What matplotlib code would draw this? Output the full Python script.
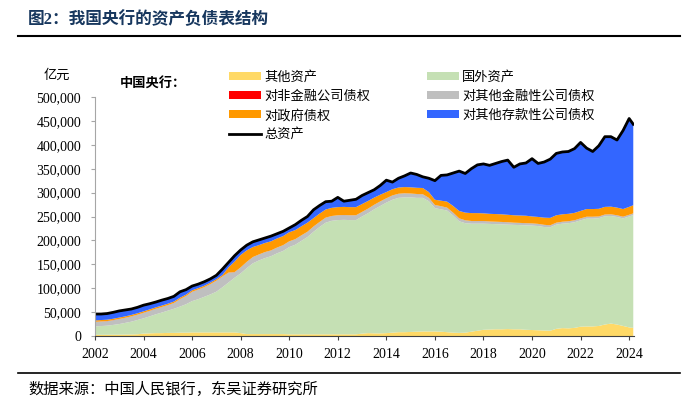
import numpy as np
import matplotlib
matplotlib.use('Agg')
import matplotlib.pyplot as plt
from matplotlib.patches import Patch
from matplotlib.lines import Line2D
from matplotlib.ticker import FuncFormatter

plt.rcParams['font.family'] = ['Liberation Serif', 'Noto Sans CJK SC']

# 季度数据（单位：千亿元），2002Q1 ... 2024Q1，外加 2024 年 2 月
t = list(np.arange(2002, 2024.01, 0.25)) + [2024.17]

other = [2.5, 2.5, 2.6, 2.7,  2.8, 3.0, 3.2, 3.6,  5.0, 5.5, 6.0, 6.0,  6.5, 6.5, 7.0, 7.0,
         7.5, 7.5, 7.5, 7.5,  7.5, 7.5, 7.5, 7.5,  6.0, 4.0, 4.0, 4.0,  4.0, 4.0, 4.0, 4.0,
         3.5, 3.5, 3.5, 3.5,  3.5, 3.5, 3.5, 3.5,  3.5, 3.5, 3.5, 3.5,  5.0, 6.0, 5.5, 5.5,
         6.0, 7.0, 8.0, 8.0,  8.5, 9.0, 9.5, 9.5,  9.5, 9.0, 8.0, 7.0,  6.5, 7.0, 9.0, 11.0,
         13.0, 13.5, 14.0, 14.0,  14.5, 14.0, 14.0, 13.0,  12.5, 12.0, 11.5, 11.0,
         15.0, 16.5, 16.0, 17.0,  19.5, 20.0, 20.0, 21.0,  24.0, 26.0, 24.0, 21.0,  18.0, 17.0]

foreign = [17.5, 18.3, 19.0, 20.5,  22.2, 24.5, 26.8, 29.9,  32.0, 35.5, 39.3, 43.0,
           46.5, 50.5, 54.5, 59.5,  65.5, 69.5, 74.5, 79.5,  85.2, 94.5, 104.5, 114.5,
           125.0, 138.0, 148.0, 154.0,  159.0, 163.0, 169.0, 174.0,  182.5, 187.5, 195.5, 203.5,
           214.5, 224.5, 233.5, 237.5,  239.0, 239.5, 239.0, 239.0,  245.0, 251.0, 259.5, 266.5,
           273.0, 278.0, 281.0, 282.0,  281.5, 280.0, 279.5, 272.5,  258.0, 256.0, 254.5, 245.0,
           233.5, 229.0, 226.0, 224.0,  222.0, 221.0, 220.0, 219.5,  218.5, 218.5, 218.0, 218.5,
           218.5, 218.0, 216.5, 216.5,  218.0, 218.5, 220.0, 221.0,  222.5, 225.5, 225.5, 225.5,
           226.5, 225.0, 225.0, 225.0,  232.0, 236.0]

other_fin = [9.5, 9.5, 9.4, 9.8,  10.5, 10.5, 11.0, 11.0,  11.5, 11.5, 11.5, 11.5,
             11.5, 12.0, 15.5, 17.0,  19.5, 20.0, 20.0, 21.5,  23.0, 22.5, 20.5, 11.5,
             12.5, 13.0, 13.0, 12.5,  12.5, 12.0, 12.0, 12.0,  12.0, 11.5, 11.5, 11.0,
             11.0, 10.5, 10.5, 10.0,  10.0, 10.0, 10.0, 10.0,  9.5, 9.5, 9.5, 9.5,
             9.0, 9.0, 8.5, 8.5,  8.0, 8.0, 7.5, 7.0,  6.5, 6.5, 6.0, 6.0,
             6.0, 6.0, 5.5, 5.5,  5.5, 5.0, 5.0, 5.0,  5.0, 4.5, 4.5, 4.5,
             4.5, 4.5, 4.5, 4.0,  4.0, 4.0, 4.0, 4.0,  4.0, 4.0, 4.0, 3.5,
             3.5, 3.5, 3.5, 3.5,  3.5, 3.5]

nonfin = [0.2, 0.2, 0.2, 0.2,  0.2, 0.2, 0.2, 0.2,  0.2, 0.2, 0.2, 0.2,
          0.2, 0.2, 0.2, 0.2,  0.2, 0.2, 0.2, 0.2,  0.2, 0.2, 0.2, 0.2,
          0.1, 0.1, 0.1, 0.1,  0.1, 0.1, 0.1, 0.1,  0.1, 0.1, 0.1, 0.1,
          0.1, 0.1, 0.1, 0.1,  0.1, 0.1, 0.1, 0.1,  0.1, 0.1, 0.1, 0.1,
          0.1, 0.1, 0.1, 0.1,  0.1, 0.1, 0.1, 0.1,  0.1, 0.1, 0.1, 0.1,
          0.1, 0.1, 0.1, 0.1,  0.1, 0.1, 0.1, 0.1,  0.1, 0.1, 0.1, 0.1,
          0.1, 0.1, 0.1, 0.1,  0.1, 0.1, 0.1, 0.1,  0.1, 0.1, 0.1, 0.1,
          0.1, 0.1, 0.1, 0.1,  0.1, 0.1]

gov = [2.9, 2.9, 2.9, 2.9,  2.9, 2.9, 2.9, 2.9,  2.9, 2.9, 2.9, 2.9,
       2.9, 2.9, 2.9, 2.9,  2.9, 2.9, 2.9, 2.9,  2.9, 2.9, 11.0, 22.0,
       26.0, 24.0, 21.0, 19.5,  19.0, 19.0, 19.0, 19.0,  19.0, 19.0, 19.0, 19.0,
       17.5, 17.5, 17.0, 17.0,  17.0, 17.0, 17.0, 17.0,  16.5, 16.0, 15.0, 14.0,
       13.0, 13.0, 13.0, 13.0,  13.0, 13.0, 13.0, 12.0,  11.0, 11.5, 12.5, 14.0,
       15.5, 16.0, 16.5, 16.5,  16.0, 16.0, 16.0, 16.0,  15.5, 15.5, 15.5, 15.5,
       14.5, 14.5, 15.0, 15.5,  15.5, 15.5, 15.5, 15.5,  15.5, 16.0, 16.0, 16.0,
       16.0, 16.0, 16.0, 16.0,  16.5, 17.0]

odc = [13.4, 12.6, 12.9, 13.4,  13.9, 13.4, 12.4, 12.4,  12.9, 11.9, 11.1, 11.4,
       10.9, 10.9, 12.4, 10.4,  8.9, 8.4, 8.4, 7.9,  8.2, 12.4, 10.3, 12.3,
       10.4, 10.9, 10.9, 10.9,  10.4, 10.9, 9.9, 9.9,  8.9, 11.4, 12.4, 12.9,
       17.4, 16.9, 16.4, 13.9,  20.4, 11.9, 14.4, 16.4,  17.9, 17.4, 16.4, 19.4,
       24.9, 14.9, 19.4, 23.4,  29.9, 27.9, 23.4, 28.9,  39.9, 52.9, 55.9, 68.9,
       83.4, 81.9, 92.9, 100.9,  103.4, 101.4, 105.9, 110.4,  114.4, 100.4, 107.9, 110.4,
       120.9, 111.9, 116.4, 122.9,  129.4, 130.4, 130.4, 134.4,  143.4, 127.4, 120.4, 131.9,
       146.9, 146.4, 141.4, 164.4,  184.9, 169.4]

colors = ['#FFD966', '#C5E0B4', '#BFBFBF', '#FF0000', '#FF9900', '#3366FF']

series = [np.array(s) * 1000 for s in [other, foreign, other_fin, nonfin, gov, odc]]
total = np.sum(series, axis=0)

W, H = 698, 405
fx = lambda px: px / W
fy = lambda py: 1 - py / H

fig = plt.figure(figsize=(W / 100, H / 100), dpi=100)
ax = fig.add_axes([fx(95), fy(336), (634 - 95) / W, (336 - 97) / H])

ax.stackplot(t, *series, colors=colors, linewidth=0)
ax.plot(t, total, color='black', lw=2, solid_joinstyle='round')

ax.set_xlim(2002, 2024.2)
ax.set_ylim(0, 500000)
ax.set_xticks(range(2002, 2025, 2))
ax.set_yticks(range(0, 500001, 50000))
ax.yaxis.set_major_formatter(FuncFormatter(lambda v, p: f'{int(v):,}'))

for s in ['top', 'right']:
    ax.spines[s].set_visible(False)
ax.spines['left'].set_color('#A6A6A6')
ax.spines['left'].set_linewidth(0.8)
ax.spines['bottom'].set_color('#404040')
ax.spines['bottom'].set_linewidth(0.8)
ax.tick_params(axis='y', direction='out', length=3, color='#A6A6A6', labelsize=10, pad=7)
ax.tick_params(axis='x', direction='out', length=3, color='#404040', labelsize=10, pad=6)
for lab in ax.get_xticklabels() + ax.get_yticklabels():
    lab.set_fontfamily(['Liberation Serif'])

# 图例
handles = [Patch(facecolor=colors[0]), Patch(facecolor=colors[3]), Patch(facecolor=colors[4]),
           Line2D([], [], color='black', lw=2),
           Patch(facecolor=colors[1]), Patch(facecolor=colors[2]), Patch(facecolor=colors[5])]
names = ['其他资产', '对非金融公司债权', '对政府债权', '总资产',
         '国外资产', '对其他金融性公司债权', '对其他存款性公司债权']
fig.legend(handles, names, loc='upper left', bbox_to_anchor=(fx(229), fy(71)), ncol=2,
           frameon=False, prop={'family': ['Noto Sans CJK SC'], 'size': 9.5},
           handlelength=2.45, handleheight=0.55, handletextpad=0.25,
           columnspacing=4.25, labelspacing=0.46, borderpad=0, borderaxespad=0)

fig.text(fx(28), fy(20), '图2：我国央行的资产负债表结构', fontsize=12, fontweight='bold',
         color='#17375E', va='center', ha='left')
fig.add_artist(Line2D([fx(18), fx(680)], [fy(36), fy(36)], color='black', lw=1.5,
                      transform=fig.transFigure))
fig.text(fx(57), fy(76), '亿元', fontsize=9.5, ha='center', va='center')
fig.text(fx(120), fy(84), '中国央行：', fontsize=9.5, fontweight='bold', ha='left', va='center')

fig.add_artist(Line2D([fx(18), fx(680)], [fy(373), fy(373)], color='black', lw=1.2,
                      transform=fig.transFigure))
fig.text(fx(28), fy(389), '数据来源：中国人民银行，东吴证券研究所', fontsize=11,
         ha='left', va='center')

fig.savefig('out.png', dpi=100)
